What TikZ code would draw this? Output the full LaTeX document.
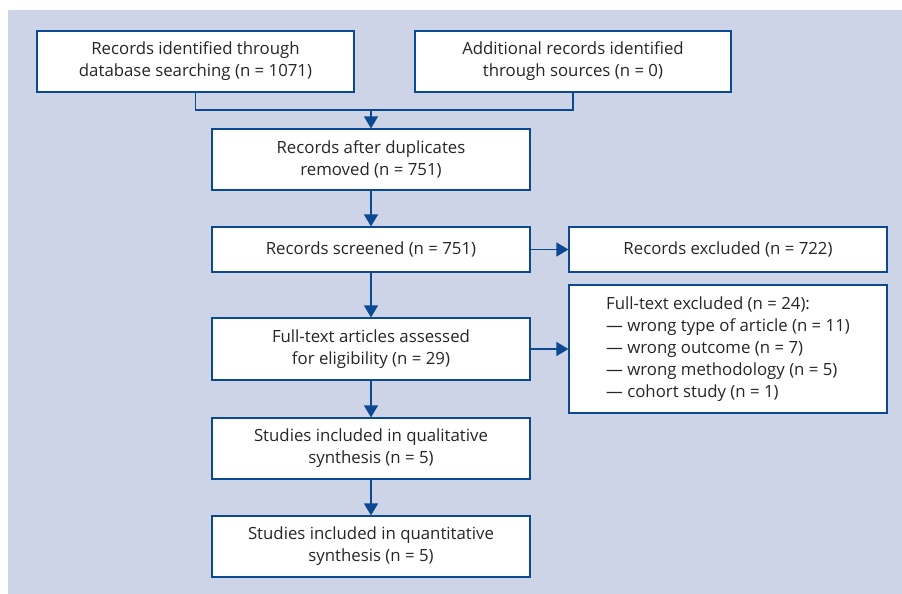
\documentclass[tikz,border=0pt]{standalone}
\usepackage{fontspec}
\setmainfont{Open Sans}
\usepackage{tikz}
\usetikzlibrary{arrows.meta}
\usetikzlibrary{graphs}

\definecolor{bgblue}{HTML}{CED4E7}
\definecolor{lineblue}{HTML}{0B4A92}
\tikzset{
  box/.style={draw=lineblue, line width=1.2pt, fill=white, minimum width=318pt, align=center,
    font=\fontsize{16.8}{22}\selectfont, text=black!85, inner sep=0pt},
  line/.style={draw=lineblue, line width=1.2pt}
}

\begin{document}
\begin{tikzpicture}[x=1pt, y=-1pt, >={Triangle[width=14pt,length=12pt]}]
\useasboundingbox (0,0) rectangle (902,594);
\fill[bgblue] (8,10) rectangle (902,594);
\node (a) [box, minimum width=317pt, minimum height=61pt] at (195.5,61.5) {Records identified through\\database searching (n = 1071)};
\node (b) [box, minimum width=316pt, minimum height=61pt] at (573,61.5) {Additional records identified\\through sources (n = 0)};
\node (c) [box, minimum height=61pt] at (371,159.5) {Records after duplicates\\removed (n = 751)};
\node (d) [box, minimum height=45pt] at (371,249.5) {Records screened (n = 751)};
\node (e) [box, minimum height=45pt] at (728,249.5) {Records excluded (n = 722)};
\node (f) [box, minimum height=62pt] at (371,349) {Full-text articles assessed\\for eligibility (n = 29)};
\node (g) [box, minimum height=128pt, align=left] at (728,349) {Full-text excluded (n = 24):\\--- wrong type of article (n = 11)\\--- wrong outcome (n = 7)\\--- wrong methodology (n = 5)\\--- cohort study (n = 1)};
\node (h) [box, minimum height=61pt] at (371,448.5) {Studies included in qualitative\\synthesis (n = 5)};
\node (i) [box, minimum height=61pt] at (371,546.5) {Studies included in quantitative\\synthesis (n = 5)};
\coordinate (join) at (371,110);
\draw [line] (a) |- (join) -| (b);
\graph [edges={line}] { (join) -> (c) -> (d) -> (f) -> (h) -> (i); (d) -> (e); (f) -> (g) };
\end{tikzpicture}
\end{document}
